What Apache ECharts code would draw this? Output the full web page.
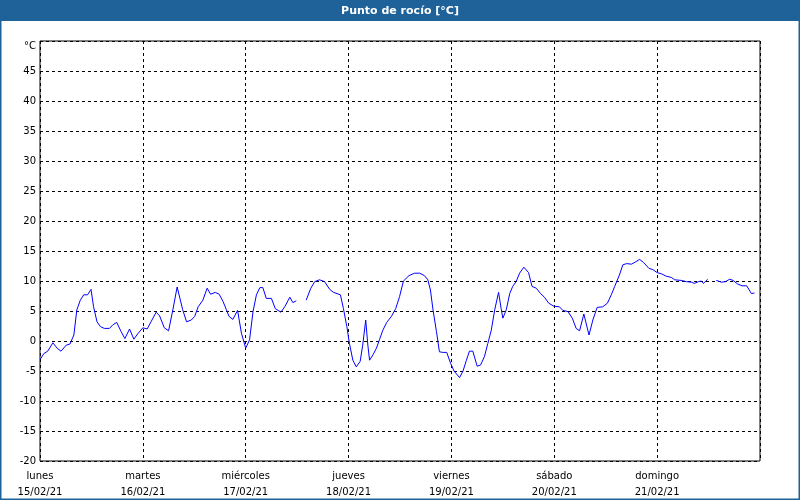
<!DOCTYPE html>
<html>
<head>
<meta charset="utf-8">
<script src="https://cdn.jsdelivr.net/npm/echarts@6/dist/echarts.min.js"></script>
<style>
html,body{margin:0;padding:0;background:#fff;}
#chart{width:800px;height:500px;}
</style>
</head>
<body>
<div id="chart"></div>
<script>
// Tick labels
var dayNames = ['lunes','martes','miércoles','jueves','viernes','sábado','domingo'];
var dayDates = ['15/02/21','16/02/21','17/02/21','18/02/21','19/02/21','20/02/21','21/02/21'];
var yTicks = [-20,-15,-10,-5,0,5,10,15,20,25,30,35,40,45,50];

// Time in hours since 15/02/21 00:00
var hours = [
0.1,0.9,1.8,3.0,4.0,4.9,6.1,7.0,7.9,8.6,9.4,10.2,11.1,11.9,12.5,13.3,14.1,15.0,16.2,17.0,
17.9,18.9,19.8,20.9,21.9,22.8,24.0,25.0,25.9,27.1,27.9,29.0,30.0,31.0,32.0,33.3,34.2,35.3,36.1,36.9,
38.0,39.0,39.8,40.9,41.8,42.7,43.5,44.1,45.0,46.1,47.0,48.0,48.9,49.7,50.5,51.3,52.0,52.8,54.0,54.9,
56.2,57.1,58.3,59.0,59.8,61.0,62.1,63.2,64.1,65.2,66.4,67.6,68.5,70.1,70.8,71.6,72.2,73.0,73.8,74.7,
75.3,76.0,76.5,76.9,77.7,78.5,79.2,80.0,80.9,82.0,83.0,83.9,84.8,86.1,87.4,88.6,89.7,90.5,91.1,91.7,
92.5,93.2,94.0,94.9,95.8,96.6,97.9,98.7,99.5,100.2,101.0,102.0,102.8,103.7,104.5,105.3,106.1,107.0,107.6,108.0,
108.8,109.6,110.3,111.1,111.9,112.9,114.0,114.8,115.8,116.8,117.7,118.7,119.9,121.2,122.0,123.2,124.2,125.1,125.9,126.9,
128.1,129.0,130.0,131.3,132.4,133.3,134.1,135.2,136.0,136.9,138.0,139.0,139.9,140.8,142.1,143.0,144.0,145.0,146.1,147.3,
148.1,149.6,150.8,152.0,152.7,153.7,154.3,154.8,155.8,156.8,157.8,159.0,160.0,160.9,161.7,162.8,163.8,164.9,166.0,166.7
];
// Dew point (°C); null = missing reading
var dewPoint = [
-3.0,-2.1,-1.7,-0.3,-1.2,-1.7,-0.7,-0.5,1.0,5.2,6.8,7.7,7.7,8.6,5.7,3.2,2.4,2.1,2.1,2.7,
3.1,1.6,0.4,2.0,0.3,1.2,2.2,2.0,3.2,4.8,4.2,2.2,1.7,5.2,9.0,5.2,3.2,3.5,4.1,5.7,
6.8,8.8,7.8,8.1,7.8,6.6,5.2,4.1,3.6,5.1,1.3,-1.2,0.2,4.9,7.7,8.9,8.9,7.1,7.1,5.4,
4.8,5.7,7.3,6.4,6.7,null,6.8,8.8,9.9,10.2,9.9,8.6,8.1,7.7,5.4,2.4,-0.4,-3.2,-4.3,-3.4,
-0.7,3.5,-0.7,-3.2,-2.3,-1.2,0.2,1.8,3.1,4.1,5.4,7.4,10.0,10.9,11.3,11.3,10.9,10.2,8.5,5.2,
1.6,-1.8,-1.9,-1.9,-3.7,-5.0,-6.1,-5.0,-3.2,-1.7,-1.7,-4.2,-4.0,-2.6,-0.4,1.8,5.2,8.1,5.4,3.8,
5.2,7.9,9.1,9.9,11.3,12.3,11.4,9.1,8.8,7.9,7.3,6.3,5.8,5.7,5.1,4.9,3.8,2.1,1.7,4.5,
1.0,3.5,5.6,5.7,6.3,7.7,9.1,11.0,12.7,12.9,12.8,13.2,13.6,13.1,12.1,11.9,11.4,11.2,10.8,10.6,
10.2,10.1,9.9,9.8,9.6,9.9,10.0,9.6,10.3,null,10.1,9.8,9.9,10.3,10.1,9.5,9.2,9.2,7.9,8.0
];

var seriesData = hours.map(function(h, i){
  return [h, dewPoint[i] === null ? '-' : dewPoint[i]];
});

var chart = echarts.init(document.getElementById('chart'));
var lblFont = {fontFamily:'DejaVu Sans', fontSize:10, color:'#000'};
chart.setOption({
  backgroundColor:'#ffffff',
  animation:false,
  graphic:[
    {type:'rect', shape:{x:0,y:0,width:800,height:21}, style:{fill:'#1f6299'}, z:10},
    {type:'rect', shape:{x:0.5,y:0.5,width:799,height:499}, style:{fill:null, stroke:'#1f6299', lineWidth:2}, z:10},
    {type:'text', x:400, y:11, style:{text:'Punto de rocío [°C]', fill:'#ffffff', font:'bold 11px "DejaVu Sans"', textAlign:'center', textVerticalAlign:'middle'}, z:11}
  ],
  grid:{left:40, top:41, right:40, bottom:39, show:true, borderColor:'#000', borderWidth:1, backgroundColor:'#fff'},
  xAxis:{
    type:'value', min:0, max:168, interval:24,
    axisLine:{show:false}, axisTick:{show:false},
    splitLine:{show:true, lineStyle:{color:'#000', type:[3,3], width:1}},
    axisLabel:Object.assign({}, lblFont, {
      margin:7, lineHeight:16, showMaxLabel:false,
      formatter:function(v){ var i = Math.round(v/24); return i < 7 ? dayNames[i] + '\n' + dayDates[i] : ''; }
    })
  },
  yAxis:{
    type:'value', min:yTicks[0], max:yTicks[yTicks.length-1], interval:5,
    axisLine:{show:false}, axisTick:{show:false},
    splitLine:{show:true, lineStyle:{color:'#000', type:[3,3], width:1}},
    axisLabel:Object.assign({}, lblFont, {
      margin:4,
      formatter:function(v){ return v === 50 ? '{u|°C}' : String(v); },
      rich:{u:{fontFamily:'DejaVu Sans', fontSize:10, color:'#000', padding:[10,0,0,0]}}
    })
  },
  series:[{
    type:'line', data:seriesData, showSymbol:false, connectNulls:false,
    lineStyle:{color:'#0000ff', width:1}, itemStyle:{color:'#0000ff'}
  }]
});
</script>
</body>
</html>
